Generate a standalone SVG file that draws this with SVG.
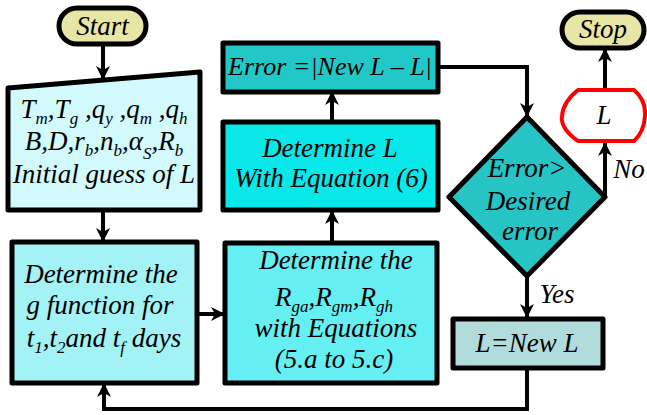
<svg xmlns="http://www.w3.org/2000/svg" width="647" height="415" viewBox="0 0 647 415">
<defs>
<marker id="ah" markerUnits="userSpaceOnUse" markerWidth="14" markerHeight="14" viewBox="0 0 14 14" refX="13" refY="7" orient="auto">
<path d="M0,0 L14,7 L0,14 L4,7 Z" fill="#000"/>
</marker>
</defs>
<style>
text{font-family:"Liberation Serif","Times New Roman",serif;font-style:italic;font-size:27px;fill:#000;text-anchor:middle}
.s{font-size:17px}
.b{stroke:#000;stroke-width:5;stroke-linejoin:round}
.c{fill:none;stroke:#000;stroke-width:4;stroke-linejoin:miter}
</style>
<rect width="647" height="415" fill="#fff"/>
<g id="connectors">
<path class="c" d="M103,45 V79" marker-end="url(#ah)"/>
<path class="c" d="M103,210 V241" marker-end="url(#ah)"/>
<path class="c" d="M197,314 H224" marker-end="url(#ah)"/>
<path class="c" d="M332,243 V211" marker-end="url(#ah)"/>
<path class="c" d="M332,122 V92" marker-end="url(#ah)"/>
<path class="c" d="M438,67 H527 V116" marker-end="url(#ah)"/>
<path class="c" d="M605,197 V143" marker-end="url(#ah)"/>
<path class="c" d="M605,89 V49" marker-end="url(#ah)"/>
<path class="c" d="M527,277 V317" marker-end="url(#ah)"/>
<path class="c" d="M527,368 V409 H104 V384" marker-end="url(#ah)"/>
</g>
<g id="start">
<rect class="b" x="59" y="8" width="87" height="36" rx="18" fill="#e8e6a6"/>
<text x="102.5" y="35">Start</text>
</g>
<g id="input">
<path class="b" d="M8,88 L200,72 L200,210 L8,210 Z" fill="#d2fafc"/>
<text x="104" y="118">T<tspan class="s" dy="6">m</tspan><tspan dy="-6">,T</tspan><tspan class="s" dy="6">g</tspan><tspan dy="-6"> ,q</tspan><tspan class="s" dy="6">y</tspan><tspan dy="-6"> ,q</tspan><tspan class="s" dy="6">m</tspan><tspan dy="-6"> ,q</tspan><tspan class="s" dy="6">h</tspan></text>
<text x="104" y="150">B,D,r<tspan class="s" dy="6">b</tspan><tspan dy="-6">,n</tspan><tspan class="s" dy="6">b</tspan><tspan dy="-6">,α</tspan><tspan class="s" dy="9">S</tspan><tspan dy="-9">,R</tspan><tspan class="s" dy="6">b</tspan></text>
<text x="104" y="183">Initial guess of L</text>
</g>
<g id="gfunc">
<rect class="b" x="12" y="242" width="185" height="141" fill="#a2f2f6"/>
<text x="101" y="283">Determine the</text>
<text x="100" y="314">g function for</text>
<text x="104" y="347">t<tspan class="s" dy="6">1</tspan><tspan dy="-6">,t</tspan><tspan class="s" dy="6">2</tspan><tspan dy="-6">and t</tspan><tspan class="s" dy="6">f</tspan><tspan dy="-6"> days</tspan></text>
</g>
<g id="rg">
<rect class="b" x="225" y="243" width="212" height="140" fill="#66eff2"/>
<text x="336" y="269">Determine the</text>
<text x="334" y="306">R<tspan class="s" dy="6">ga</tspan><tspan dy="-6">,R</tspan><tspan class="s" dy="6">gm</tspan><tspan dy="-6">,R</tspan><tspan class="s" dy="6">gh</tspan></text>
<text x="336" y="337">with Equations</text>
<text x="334" y="368">(5.a to 5.c)</text>
</g>
<g id="detL">
<rect class="b" x="223" y="122" width="215" height="88" fill="#08e8e8"/>
<text x="330" y="157">Determine L</text>
<text x="331" y="187">With Equation (6)</text>
</g>
<g id="error">
<rect class="b" x="223" y="43" width="215" height="49" fill="#22c8c8"/>
<text x="330" y="75" style="font-size:26px">Error =|New L – L|</text>
</g>
<g id="decision">
<path class="b" d="M527,117 L605,197 L527,276 L449,197 Z" fill="#26c4c4"/>
<text x="527" y="177">Error&gt;</text>
<text x="528" y="210">Desired</text>
<text x="530" y="240">error</text>
<text x="629" y="178">No</text>
<text x="557" y="303">Yes</text>
</g>
<g id="display">
<path d="M578,90 L634,90 Q646,100 645,116 Q644,132 634,141 L578,141 Q560,128 562,116 Q563,102 578,90 Z" fill="#fff" stroke="#f00" stroke-width="4" stroke-linejoin="round"/>
<text x="604" y="124">L</text>
</g>
<g id="stop">
<rect class="b" x="562" y="12" width="82" height="36" rx="18" fill="#e8e6a6"/>
<text x="603" y="38">Stop</text>
</g>
<g id="newL">
<rect class="b" x="453" y="319" width="150" height="49" fill="#b2dcdc"/>
<text x="527" y="352">L=New L</text>
</g>
</svg>
